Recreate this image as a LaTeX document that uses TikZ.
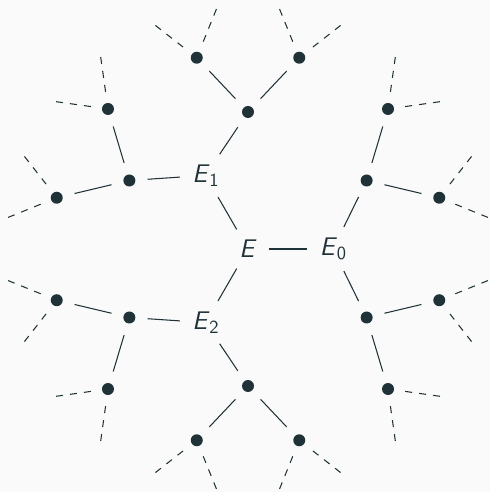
\documentclass[tikz,border=0pt]{standalone}
\usepackage{tikz}
\definecolor{ink}{HTML}{1F3238}
\definecolor{paper}{HTML}{FAFAFA}

\begin{document}
\begin{tikzpicture}[x=0.02cm,y=0.02cm,
  lab/.style={rectangle,inner sep=0pt,text=ink,font=\sffamily\fontsize{14.5}{17}\selectfont},
  dot/.style={circle,fill=ink,inner sep=0pt,minimum size=0.24cm},
  edge/.style={draw=ink,line width=0.6pt,shorten <=0.24cm,shorten >=0.24cm},
  leaf/.style={draw=ink,line width=0.6pt,shorten <=0.22cm,dash pattern=on 4pt off 4pt}]
\path[use as bounding box,fill=paper] (-248,-243) rectangle (242,249);
\node[lab] (E) at (0,0) {\textit{E}};
\foreach \i in {0,1,2}{
  \node[lab] (E\i) at (\i*120:85) {\textit{E}\raisebox{-2.3pt}{\fontsize{10.5}{12}\selectfont\i}};
  \draw[edge] (E) -- (E\i);
  \foreach \s/\j in {-1/a,1/b}{
    \node[dot] (\i\j) at (\i*120+\s*30:137) {};
    \draw[edge] (E\i) -- (\i\j);
    \foreach \t/\k in {-1/a,1/b}{
      \node[dot] (\i\j\k) at (\i*120+\s*30+\t*15:198) {};
      \draw[edge] (\i\j) -- (\i\j\k);
      \foreach \u/\l in {-1/a,1/b}{
        \coordinate (\i\j\k\l) at (\i*120+\s*30+\t*15+\u*7.5:242);
        \draw[leaf] (\i\j\k) -- (\i\j\k\l);
      }
    }
  }
}
\end{tikzpicture}
\end{document}
